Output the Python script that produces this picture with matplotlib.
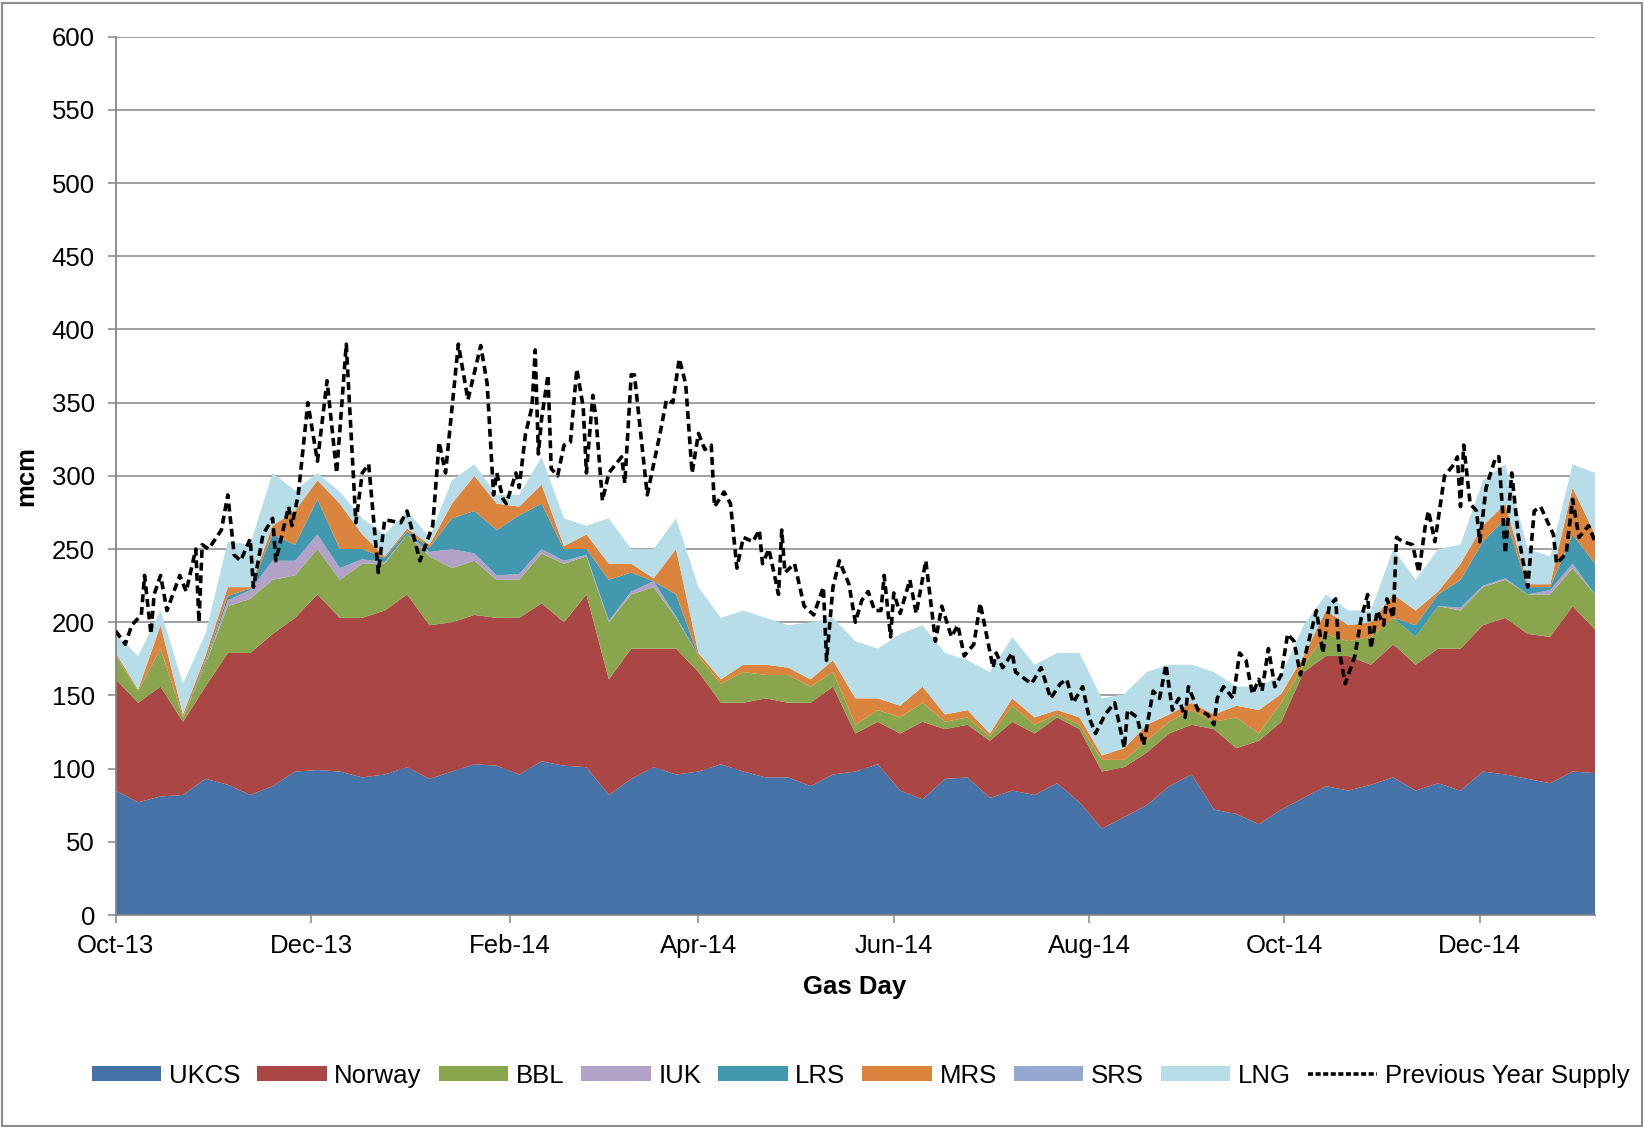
import numpy as np
import pandas as pd
import matplotlib
matplotlib.use("Agg")
from matplotlib import pyplot as plt
import matplotlib.dates as mdates
from matplotlib.patches import Rectangle, Patch
from matplotlib.lines import Line2D

plt.rcParams['font.family'] = ['Liberation Sans', 'DejaVu Sans']

# weekly readings (mcm) from 1 Oct 2013
start = pd.Timestamp('2013-10-01')
week_dates = pd.date_range(start, periods=67, freq='7D')

ukcs = [85, 77, 81, 82, 93, 89, 82, 88, 98, 99,
        98, 94, 96, 101, 93, 98, 103, 102, 96, 105,
        102, 101, 82, 93, 101, 96, 98, 103, 98, 94,
        94, 88, 96, 98, 103, 85, 79, 93, 94, 80,
        85, 82, 90, 77, 59, 67, 75, 88, 96, 72,
        69, 62, 72, 80, 88, 85, 89, 94, 85, 90,
        85, 98, 96, 93, 90, 98, 97]
norway = [76, 68, 75, 50, 63, 90, 97, 104, 105, 120,
          105, 109, 112, 118, 105, 102, 102, 101, 107, 108,
          98, 118, 79, 89, 81, 86, 68, 42, 47, 54,
          51, 57, 60, 26, 29, 39, 53, 34, 36, 39,
          47, 42, 45, 50, 39, 34, 36, 36, 34, 55,
          45, 57, 60, 86, 89, 92, 82, 91, 86, 92,
          97, 100, 107, 99, 100, 113, 98]
bbl = [16, 8, 26, 3, 15, 32, 37, 37, 29, 31,
       26, 37, 32, 41, 47, 37, 37, 26, 26, 34,
       40, 26, 39, 37, 42, 21, 11, 13, 21, 16,
       19, 11, 10, 6, 8, 11, 13, 5, 5, 3,
       11, 6, 2, 3, 8, 5, 8, 8, 10, 5,
       21, 5, 13, 5, 15, 10, 19, 18, 19, 29,
       26, 26, 26, 27, 29, 26, 24]
iuk = [0, 0, 0, 0, 0, 4, 6, 13, 10, 10,
       8, 3, 1, 0, 3, 13, 5, 3, 4, 3,
       2, 1, 1, 2, 4, 1, 0, 0, 0, 0,
       0, 0, 0, 0, 0, 0, 0, 0, 0, 0,
       0, 0, 0, 0, 0, 0, 0, 0, 0, 0,
       0, 0, 0, 0, 0, 0, 0, 0, 0, 0,
       2, 1, 1, 0, 3, 3, 0]
lrs = [0, 0, 0, 0, 2, 3, 1, 18, 11, 24,
       13, 7, 3, 2, 3, 21, 29, 31, 40, 31,
       8, 4, 28, 13, 0, 15, 0, 0, 0, 0,
       0, 0, 0, 0, 0, 0, 0, 0, 0, 0,
       0, 0, 0, 0, 0, 0, 0, 0, 0, 0,
       0, 0, 0, 0, 0, 0, 0, 0, 8, 8,
       19, 30, 41, 5, 2, 20, 21]
mrs = [2, 1, 16, 2, 4, 6, 1, 6, 23, 13,
       31, 10, 1, 2, 2, 10, 24, 18, 6, 13,
       2, 10, 11, 6, 2, 31, 2, 3, 5, 7,
       5, 5, 8, 18, 8, 8, 11, 5, 5, 2,
       5, 5, 3, 5, 3, 8, 11, 5, 5, 5,
       8, 16, 6, 6, 16, 11, 10, 16, 10, 2,
       11, 11, 10, 2, 2, 32, 20]
srs = [0, 0, 0, 0, 0, 0, 0, 0, 0, 0,
       0, 0, 0, 0, 0, 0, 0, 0, 0, 0,
       0, 0, 0, 0, 0, 0, 0, 0, 0, 0,
       0, 0, 0, 0, 0, 0, 0, 0, 0, 0,
       0, 0, 0, 0, 0, 0, 0, 0, 0, 0,
       0, 0, 0, 0, 0, 0, 0, 0, 0, 0,
       0, 0, 0, 0, 0, 0, 0]
lng = [13, 23, 10, 21, 15, 31, 29, 36, 14, 5,
       8, 11, 15, 12, 5, 16, 8, 6, 8, 19,
       19, 6, 31, 10, 20, 21, 45, 42, 37, 32,
       29, 39, 29, 39, 34, 49, 42, 42, 34, 42,
       42, 36, 39, 44, 39, 37, 36, 34, 26, 29,
       13, 16, 13, 21, 11, 10, 8, 31, 21, 29,
       13, 31, 27, 24, 19, 16, 42]

# previous year supply: day offset from 1 Oct 2013, mcm
prev_day = [0, 3, 5, 8, 9, 11, 12, 14, 16, 20, 22, 25, 26, 27, 29, 33, 35, 37, 39, 42,
            43, 46, 49, 50, 54, 55, 57, 60, 63, 66, 69, 72, 75, 77, 79, 82, 84, 89, 91, 95,
            99, 101, 103, 107, 110, 114, 116, 118, 119, 121, 122, 125, 126, 128, 130, 131, 132, 133, 135, 136,
            138, 140, 142, 144, 146, 147, 149, 150, 152, 154, 158, 159, 161, 162, 166, 170, 172, 174, 176, 178,
            180, 182, 184, 186, 187, 190, 192, 194, 196, 199, 201, 202, 204, 207, 208, 209, 212, 215, 218, 221,
            222, 224, 226, 229, 231, 233, 235, 237, 239, 240, 242, 243, 245, 248, 250, 253, 256, 258, 261, 263,
            265, 268, 270, 274, 275, 277, 280, 281, 286, 289, 292, 295, 297, 299, 302, 304, 306, 309, 312, 315,
            316, 319, 321, 324, 326, 328, 330, 332, 334, 335, 338, 341, 343, 344, 346, 349, 351, 353, 355, 357,
            358, 360, 362, 364, 366, 368, 370, 372, 375, 377, 379, 381, 382, 384, 387, 389, 391, 392, 394, 396,
            397, 399, 400, 402, 405, 407, 409, 410, 412, 415, 418, 419, 420, 421, 423, 425, 426, 428, 431, 432,
            434, 436, 438, 441, 443, 445, 449, 450, 453, 455, 457, 460, 462]
prev_mcm = [194, 185, 198, 205, 232, 192, 219, 232, 208, 232, 221, 250, 200, 253, 250, 263, 287, 246, 242, 257,
            224, 260, 271, 242, 279, 266, 287, 350, 310, 365, 302, 390, 268, 302, 308, 234, 270, 268, 276, 242,
            266, 323, 302, 390, 352, 389, 363, 287, 302, 284, 281, 302, 292, 329, 347, 386, 315, 339, 369, 305,
            300, 321, 323, 373, 347, 302, 355, 339, 283, 302, 313, 295, 369, 369, 287, 329, 352, 350, 380, 363,
            302, 329, 318, 321, 279, 289, 281, 237, 258, 255, 263, 240, 250, 219, 263, 234, 240, 211, 205, 224,
            174, 224, 242, 226, 200, 215, 221, 208, 208, 232, 190, 220, 206, 229, 206, 242, 187, 211, 190, 198,
            177, 185, 213, 169, 179, 169, 179, 166, 158, 169, 148, 158, 161, 145, 156, 135, 124, 137, 145, 114,
            140, 135, 116, 153, 148, 171, 140, 148, 135, 156, 140, 137, 130, 148, 156, 148, 179, 174, 151, 161,
            153, 182, 156, 164, 192, 187, 164, 182, 208, 179, 211, 216, 182, 158, 177, 203, 219, 182, 208, 198,
            216, 203, 258, 255, 253, 234, 266, 276, 255, 300, 308, 313, 279, 321, 281, 276, 255, 292, 313, 313,
            247, 302, 260, 224, 276, 279, 260, 240, 247, 284, 258, 266, 255]

names = ['UKCS', 'Norway', 'BBL', 'IUK', 'LRS', 'MRS', 'SRS', 'LNG']
colors = ['#4572A7', '#AA4643', '#89A54E', '#B3A2C7', '#4198AF', '#DB843D', '#93A9CF', '#B7DEE8']
grey = '#868686'
fs = 18.5

fig = plt.figure(figsize=(16.44, 11.27), dpi=100)
ax = fig.add_axes([0.0704, 0.1881, 0.8998, 0.7793])

ax.stackplot(week_dates, ukcs, norway, bbl, iuk, lrs, mrs, srs, lng,
             colors=colors, linewidth=0)
prev_dates = start + pd.to_timedelta(prev_day, unit='D')
ax.plot(prev_dates, prev_mcm, color='black', lw=2.6, ls=(0, (2.2, 1.3)), zorder=5)

ax.set_ylim(0, 600)
ax.set_yticks(np.arange(0, 601, 50))
ax.set_xlim(week_dates[0], week_dates[-1])
ax.xaxis.set_major_locator(mdates.MonthLocator(bymonth=[2, 4, 6, 8, 10, 12]))
ax.xaxis.set_major_formatter(mdates.DateFormatter('%b-%y'))

ax.set_axisbelow(True)
ax.grid(axis='y', color=grey, lw=1.1)
for s in ['top', 'right']:
    ax.spines[s].set_visible(False)
for s in ['left', 'bottom']:
    ax.spines[s].set_color(grey)
    ax.spines[s].set_linewidth(1.3)
ax.tick_params(axis='both', direction='out', length=6, width=1.1, color=grey, labelsize=fs)
ax.tick_params(axis='y', pad=9)
ax.tick_params(axis='x', pad=8)

fig.text(0.0158, 0.5777, 'mcm', rotation=90, ha='center', va='center', fontsize=fs, fontweight='bold')
fig.text(0.5201, 0.1245, 'Gas Day', ha='center', va='center', fontsize=fs, fontweight='bold')

handles = [Patch(facecolor=c, edgecolor='none') for c in colors]
handles.append(Line2D([0], [0], color='black', lw=2.6, ls=(0, (1.4, 0.7))))
fig.legend(handles, names + ['Previous Year Supply'], loc='center', bbox_to_anchor=(0.5235, 0.0455),
           ncol=9, frameon=False, fontsize=fs, handlelength=2.7, handleheight=0.55,
           handletextpad=0.3, columnspacing=0.66, borderaxespad=0)

fig.patches.append(Rectangle((0.0012, 0.001), 0.9976, 0.996, transform=fig.transFigure,
                             fill=False, edgecolor='#8c8c8c', lw=1.5))

fig.savefig('out.png', dpi=100)
